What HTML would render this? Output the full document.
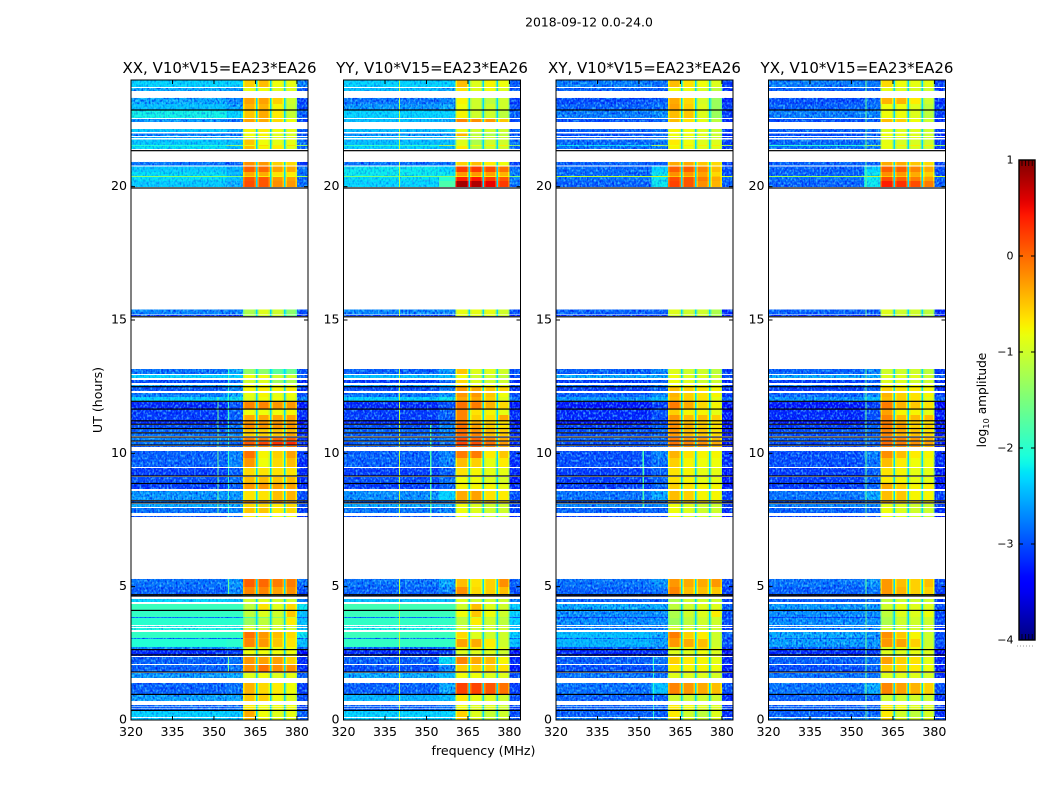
<!DOCTYPE html>
<html>
<head>
<meta charset="utf-8">
<title>2018-09-12 cross-power spectrograms</title>
<style>
html,body{margin:0;padding:0;background:#fff;}
svg{display:block;}
text{font-family:"DejaVu Sans","Liberation Sans",sans-serif;fill:#000;}
</style>
</head>
<body>
<svg id="chart" xmlns="http://www.w3.org/2000/svg" width="1050" height="800" viewBox="0 0 1050 800">
<defs>
<filter id="speckle-dark" x="0" y="0" width="100%" height="100%"><feTurbulence type="fractalNoise" baseFrequency="0.55 0.4" numOctaves="1" seed="4"/><feColorMatrix values="0 0 0 0 0  0 0 0 0 0  0 0 0 0 0.75  3.2 0 0 0 -1.45"/></filter>
<filter id="speckle-light" x="0" y="0" width="100%" height="100%"><feTurbulence type="fractalNoise" baseFrequency="0.55 0.4" numOctaves="1" seed="11"/><feColorMatrix values="0 0 0 0 0.1  0 0 0 0 0.8  0 0 0 0 1  3.2 0 0 0 -1.5"/></filter>
<linearGradient id="jet-gradient" x1="0" y1="1" x2="0" y2="0"></linearGradient>
</defs>
<text x="589" y="26.5" font-size="12.4" text-anchor="middle">2018-09-12 0.0-24.0</text>
<text x="483.5" y="755" font-size="12.6" text-anchor="middle">frequency (MHz)</text>
<text transform="translate(102,400) rotate(-90)" font-size="12.6" text-anchor="middle">UT (hours)</text>
<text transform="translate(986,400) rotate(-90)" font-size="12.2" text-anchor="middle">log<tspan font-size="8.3" dy="3">10</tspan><tspan dy="-3"> amplitude</tspan></text>
<g id="panels"></g>
<g id="colorbar"></g>
</svg>
<script>
// Axis data
const panelTitles = ["XX, V10*V15=EA23*EA26","YY, V10*V15=EA23*EA26","XY, V10*V15=EA23*EA26","YX, V10*V15=EA23*EA26"];
const freqTicks = [320,335,350,365,380];
const utTicks = [0,5,10,15,20];
const colorTicks = [1,0,-1,-2,-3,-4];
// Frequency segments (MHz): background left, background middle, four spectral windows, background right
const bandStart = [320,354.5,360.5,365.7,370.8,375.8,380];
const bandEnd = [354.5,360.5,365.2,370.25,375.3,380,384];
// Scan time edges (UT hours)
const scanTop = [24,23.7,23.33,23.1,22.88,22.54,22.16,21.99,21.86,21.77,21.56,21.53,20.93,20.76,20.55,20.4,20.36,20.21,15.39,15.19,13.16,12.94,12.75,12.56,12.49,12.26,12.11,11.93,11.64,11.44,11.21,11.06,10.91,10.76,10.58,10.43,10.28,10.09,9.83,9.45,9.11,8.85,8.59,8.21,8.1,7.95,7.65,5.29,4.99,4.69,4.54,4.35,4.09,3.86,3.83,3.53,3.45,3.3,3.08,3.04,2.74,2.63,2.36,2.06,1.76,1.39,.94,.56,.48,.41,.34,.08];
const scanBottom = [23.74,23.59,23.1,22.88,22.58,22.43,22.05,21.9,21.83,21.56,21.53,21.41,20.8,20.55,20.4,20.36,20.21,19.99,15.21,15.15,12.98,12.83,12.64,12.5,12.34,12.11,11.96,11.66,11.44,11.23,11.1,10.95,10.8,10.65,10.46,10.31,10.24,9.83,9.49,9.15,8.89,8.66,8.25,8.14,7.99,7.76,7.61,4.99,4.73,4.65,4.43,4.13,3.86,3.83,3.56,3.49,3.38,3.08,3.04,2.74,2.63,2.4,2.1,1.8,1.58,.98,.71,.5,.43,.37,.11,0];
// Completely dark scans (UT hours)
const darkScans = [22.875,21.35,19.95,15.12,12.5,11.95,11.66,11.22,11.09,10.93,10.77,10.61,10.46,10.31,9.15,8.87,8.22,8.14,4.70,4.65,4.11,2.64,2.44,1.80,.96,.36];
// log10 amplitude per scan, per frequency segment
const xxLevels = [
[-2.3,-2.3,-.55,-.45,-.8,-.85,-2.7],[-2.5,-2.6,-.85,-.8,-.9,-.9,-3],[-2.5,-2.7,-.3,-.3,-.55,-1,-3.1],[-2.4,-2.5,-.4,-.4,-.75,-1.05,-3],[-2.15,-2.3,-.5,-.35,-.7,-1.05,-2.9],[-2.6,-2.8,-.3,-.35,-.6,-.8,-3.1],
[-2.35,-2.5,-.75,-.7,-.8,-.85,-2.9],[-2.75,-2.8,-.8,-.75,-.9,-.95,-3],[-2.5,-2.5,-.9,-.8,-.9,-.9,-2.8],[-2.35,-2.4,-.5,-.8,-.85,-.85,-2.8],[-2,-1.4,-.8,-.6,-.7,-.6,-1.3],[-2.25,-2.4,-.45,-.75,-.7,-.9,-2.9],
[-2.8,-2.9,-.2,-.25,-.55,-.6,-3.1],[-2.35,-2.45,.05,0,-.3,-.35,-2.8],[-2.25,-2.45,-.35,-.35,-.65,-.7,-2.8],[-1.4,-1.5,-.6,-.7,-.8,-.8,-1.3],[-2.25,-2.4,.1,.1,-.25,-.3,-2.9],[-2.35,-2.5,.15,.1,-.2,-.25,-2.8],
[-2.7,-2.75,-1.2,-.9,-1,-1.4,-3],[-3.2,-3.2,-1.2,-1,-1,-1.5,-3.3],
[-2.8,-2.5,-1.35,-1.4,-1.7,-1.6,-3],[-2.3,-2.3,-.8,-.8,-1,-1,-2.9],[-3,-2.8,-1,-.9,-1.3,-1.2,-3.2],[-2.5,-2.4,-.8,-.8,-.9,-.9,-2.9],[-2.95,-2.7,-.75,-.7,-.75,-.7,-3.2],[-2.75,-2.5,-.85,-.75,-.85,-.8,-3],[-2.3,-2.2,-.9,-.8,-.8,-.85,-2.7],
[-3.2,-3,-.15,-.15,-.25,-.25,-3.3],[-3.1,-2.9,-.8,-.8,-.8,-.75,-3.2],[-3.1,-2.9,-.35,-.35,-.35,-.3,-3.2],[-3.2,-3,-.25,-.25,-.25,-.25,-3.4],[-3,-2.8,-.2,-.25,-.25,-.25,-3.2],[-2.9,-2.8,-.5,-.55,-.5,-.45,-3.2],[-2.8,-2.7,-.55,-.55,-.5,-.3,-3.2],[-2.7,-2.7,-.1,-.1,0,.05,-3.1],[-2.8,-2.8,.1,.2,.3,.35,-3.2],[-2.9,-2.9,-.2,-.15,-.05,-.05,-3.2],
[-2.9,-2.7,-.05,-.75,-.55,-.3,-3.1],[-2.9,-2.7,-.25,-.8,-.6,-.45,-3.2],[-3.1,-2.9,-.6,-.65,-.65,-.65,-3.2],[-3,-2.8,-.45,-.45,-.5,-.45,-3.2],[-3.1,-2.9,-.25,-.25,-.3,-.3,-3.2],[-2.6,-2.6,-.65,-.65,-.45,-.4,-3],[-2.8,-2.7,-.2,-.25,-.2,-.35,-3.1],[-2.5,-2.5,-.6,-.6,-.7,-.6,-3],[-2.8,-2.7,-.5,-.5,-.7,-.6,-3.1],[-3,-2.9,-.7,-.7,-.8,-.8,-3.2],
[-2.8,-2.6,.05,0,-.1,-.1,-2.8],[-2.9,-2.7,-.15,-.15,-.3,-.2,-3],[-3.2,-3.1,-.6,-.6,-.7,-.7,-3.3],[-2.3,-2.4,-1,-.9,-1,-1,-2.7],[-1.9,-1.9,-1.1,-.65,-.9,-.6,-2.2],[-1.95,-1.95,-1.1,-.9,-1,-.5,-2.4],[-2.8,-2.8,-1.8,-1.5,-1.4,-1,-2.9],[-2,-2,-1.3,-1.1,-1,-.7,-2.4],[-2.1,-2.1,-1,-1,-1,-1,-2.4],[-2.1,-2.1,-1,-1,-1,-1,-2.4],
[-1.95,-1.95,-.05,-.25,-.45,-.6,-2.2],[-2.8,-2.8,-.2,-.35,-.55,-.65,-2.9],[-2.05,-2,-.15,-.25,-.5,-.65,-2.4],[-2.7,-2.5,-.9,-.75,-.8,-.8,-2.9],[-3.2,-3.1,-.8,-.8,-.8,-.8,-3.4],[-2.9,-2.8,-.25,-.3,-.3,-.55,-3.2],[-2.9,-2.8,-.2,-.05,-.2,-.2,-3.2],[-2.6,-2.5,-.9,-.8,-.9,-.85,-2.9],[-2.9,-2.8,-.4,-.6,-.7,-.8,-3.1],[-2.55,-2.5,-.5,-.55,-.8,-.9,-3],
[-2.9,-2.8,-.7,-.8,-.8,-.8,-3.1],[-2.9,-2.8,-.7,-.8,-.8,-.8,-3.1],[-2.9,-2.8,-.7,-.8,-.8,-.8,-3.1],[-2.3,-2.35,-.35,-.8,-.9,-.85,-2.9],[-2.35,-2.35,-.45,-.8,-.9,-.9,-2.9]];
const yyLevels = [
[-2.3,-2.3,-.45,-.9,-.75,-.8,-2.9],[-2.4,-2.5,-.65,-.9,-.8,-.9,-3],[-2.8,-2.7,-.75,-1,-1.1,-1,-3.1],[-2.6,-2.5,-.8,-1,-1,-1,-3],[-2.3,-2.3,-.75,-1,-1,-1.1,-2.9],[-2.4,-2.5,-.15,-.2,-.25,-.5,-3],
[-2.4,-2.4,-.85,-1,-1,-1,-2.9],[-2.6,-2.6,-.4,-1.1,-1.2,-1.1,-3],[-2.4,-2.4,-1,-1,-1,-1,-2.8],[-2.4,-2.4,-.9,-1.2,-1,-1,-2.8],[-1.9,-1.2,-.85,-.8,-.7,-.7,-1.4],[-2.3,-2.4,-.7,-1.1,-1,-1,-2.9],
[-2.8,-2.8,-.55,-.45,-.7,-.8,-3.1],[-2.2,-2.3,.25,.25,.15,-.05,-2.8],[-2.2,-2.2,-.25,-.25,-.3,-.4,-2.7],[-1.5,-1.4,-.6,-.6,-.7,-.7,-1.5],[-2.25,-2,.4,.45,.25,.1,-2.7],[-2.3,-1.8,.85,.8,.55,.25,-2.8],
[-2.7,-2.7,-.85,-.85,-.85,-1,-3],[-3.1,-3.1,-.9,-.9,-.9,-1,-3.3],
[-2.9,-2.6,-.5,-.9,-.9,-1,-3],[-2.4,-2.4,-.8,-1,-1,-1.1,-3],[-3.1,-2.9,-.6,-.9,-1,-1,-3.2],[-2.5,-2.4,-.6,-.8,-.8,-.9,-3],[-3,-2.8,-.25,-.35,-.5,-.55,-3.2],[-2.8,-2.6,-.25,-.25,-.5,-.8,-3],[-2.3,-2.2,-.35,-.35,-.55,-.9,-2.8],
[-3.2,-3,-.05,-.1,-.4,-.6,-3.3],[-3.1,-2.9,-.15,-.65,-.75,-.85,-3.2],[-3.1,-2.9,-.15,-.55,-.65,-.35,-3.2],[-3.2,-2.9,-.1,-.4,-.55,-.65,-3.4],[-3,-2.7,-.05,-.3,-.55,-.65,-3.2],[-2.9,-2.7,-.05,-.25,-.45,-.55,-3.2],[-2.9,-2.7,0,-.15,-.45,-.5,-3.2],[-2.8,-2.7,.15,0,-.15,-.35,-3.1],[-2.9,-2.8,.2,.15,-.05,-.25,-3.2],[-2.9,-2.9,.05,.05,-.15,-.35,-3.2],
[-2.9,-2.7,-.1,-.1,-.7,-.5,-3.1],[-2.9,-2.7,-.45,-.55,-.85,-.7,-3.2],[-3.1,-2.9,-.65,-.75,-.85,-.85,-3.2],[-3,-2.8,-.8,-.8,-.9,-.95,-3.3],[-3.1,-2.9,-.75,-.75,-.75,-.85,-3.2],[-2.65,-2.3,-.35,-.3,-.65,-.7,-3],[-2.9,-2.8,-.45,-.55,-.55,-.65,-3.1],[-2.5,-2.5,-.8,-.9,-1,-1,-3],[-2.8,-2.7,-.8,-.9,-1,-1,-3.1],[-3,-2.9,-.8,-.9,-1,-1,-3.2],
[-2.8,-2.5,-.45,-.65,-.55,-.2,-2.9],[-2.9,-2.7,-.2,-.6,-.55,-.45,-3],[-3.2,-3.1,-.6,-.7,-.7,-.7,-3.3],[-2.4,-2.4,-.9,-1,-1,-1,-2.7],[-1.85,-1.85,-1,-.45,-.9,-1,-2.3],[-1.9,-1.9,-.8,-.5,-.8,-1,-2.3],[-2.8,-2.7,-1.2,-1,-1.1,-1.2,-2.9],[-1.95,-1.95,-1.1,-.7,-1,-1.1,-2.3],[-2.1,-2.1,-1,-1,-1,-1,-2.4],[-2.1,-2.1,-1,-1,-1,-1,-2.4],
[-1.9,-1.9,-.6,-.9,-1,-1,-2.3],[-2.7,-2.7,-.8,-1,-1,-1,-2.9],[-1.95,-1.95,-.3,-.35,-.7,-1,-2.4],[-2.9,-2.8,-.8,-.7,-.8,-.9,-3.1],[-3.2,-3.1,-.9,-.9,-.9,-1,-3.4],[-2.9,-2.25,-.15,-.35,-.45,-.75,-3.2],[-3,-2.7,-.55,-.55,-.55,-.65,-3.3],[-2.5,-2.4,-.8,-.8,-.9,-.9,-3],[-2.9,-2.5,.2,.2,.1,-.05,-3.1],[-2.45,-2.4,-.7,-.85,-.9,-1,-3],
[-2.9,-2.8,-.8,-.9,-.9,-1,-3.1],[-2.9,-2.8,-.8,-.9,-.9,-1,-3.1],[-2.9,-2.8,-.8,-.9,-.9,-1,-3.1],[-2.3,-2.3,-.55,-.9,-1.05,-1,-3],[-2.3,-2.3,-.55,-.9,-1.05,-1,-3]];
const xyLevels = [
[-2.75,-2.8,-.45,-.65,-.8,-.9,-3.1],[-2.9,-2.9,-.8,-.85,-.95,-1.1,-3.2],[-3,-2.9,-.35,-.6,-.95,-1.3,-3.2],[-2.9,-2.8,-.3,-.55,-.9,-1.3,-3.1],[-2.75,-2.65,-.45,-.5,-.9,-1.3,-3.1],[-3,-2.9,-.45,-.65,-.85,-1.1,-3.2],
[-2.9,-2.8,-.75,-.8,-.9,-1,-3.1],[-3,-2.9,-.8,-.8,-.9,-1,-3.2],[-2.9,-2.8,-.9,-.9,-.9,-1,-3.1],[-2.85,-2.75,-.7,-.8,-.9,-.9,-3.1],[-2.2,-1.2,-.8,-.7,-.7,-.7,-1.2],[-2.8,-2.75,-.75,-.85,-.9,-.9,-3.1],
[-2.9,-2.9,-.35,-.35,-.5,-.6,-3.1],[-2.85,-2.3,.05,.05,-.15,-.45,-3],[-2.85,-2.2,-.2,-.25,-.3,-.6,-3],[-1.1,-1,-.5,-.5,-.3,-.5,-1],[-2.8,-2.2,.15,.1,-.1,-.35,-2.9],[-2.9,-2.2,.2,.1,-.2,-.4,-2.9],
[-2.9,-2.9,-.9,-1,-1,-1.2,-3.2],[-3.2,-3.2,-1,-1,-1,-1.2,-3.3],
[-2.9,-2.7,-.9,-1,-1,-1.1,-3.1],[-2.5,-2.5,-.8,-.9,-.9,-1,-3],[-3.1,-2.9,-.8,-.9,-1,-1,-3.2],[-2.8,-2.7,-.8,-.8,-.8,-.9,-3],[-3.1,-2.9,-.45,-.55,-.65,-.75,-3.2],[-2.9,-2.7,-.4,-.55,-.65,-.75,-3.1],[-2.6,-2.4,-.45,-.55,-.65,-.85,-2.9],
[-3.3,-3.1,-.1,-.35,-.6,-.75,-3.4],[-3.2,-3,-.55,-.75,-.75,-.85,-3.3],[-3.2,-3,-.25,-.45,-.45,-.55,-3.3],[-3.3,-3.1,-.25,-.45,-.55,-.65,-3.4],[-3.1,-2.9,-.2,-.4,-.55,-.65,-3.3],[-3,-2.9,-.25,-.45,-.5,-.65,-3.3],[-3,-2.9,-.25,-.45,-.5,-.6,-3.3],[-2.9,-2.8,-.1,-.25,-.25,-.45,-3.2],[-3,-2.9,-.05,-.15,-.2,-.35,-3.3],[-3,-2.9,-.15,-.25,-.25,-.45,-3.3],
[-3,-2.7,-.4,-.65,-.75,-.75,-3.2],[-3,-2.8,-.55,-.75,-.8,-.8,-3.2],[-3.1,-2.9,-.65,-.75,-.85,-.85,-3.3],[-3.1,-2.9,-.65,-.75,-.85,-.85,-3.3],[-3.1,-2.9,-.55,-.65,-.75,-.75,-3.3],[-2.8,-2.5,-.45,-.55,-.75,-.75,-3.1],[-3,-2.9,-.45,-.55,-.65,-.75,-3.2],[-2.7,-2.7,-.8,-.9,-1,-1,-3.1],[-2.9,-2.9,-.8,-.9,-1,-1,-3.2],[-3.1,-3,-.8,-.9,-1,-1,-3.3],
[-2.8,-2.6,-.25,-.35,-.35,-.25,-3],[-2.9,-2.8,-.15,-.45,-.45,-.5,-3.1],[-3.3,-3.2,-.7,-.7,-.8,-.8,-3.4],[-2.9,-2.9,-1.2,-1,-1,-1,-3.1],[-2.5,-2.5,-1.1,-1,-.9,-.9,-2.9],[-2.65,-2.65,-1.2,-1,-.9,-.7,-3],[-3.1,-3.1,-1.2,-1.1,-1,-1,-3.2],[-2.65,-2.65,-1.3,-1.1,-1,-1,-3],[-2.7,-2.7,-1,-1,-1,-1,-3.1],[-2.7,-2.7,-1,-1,-1,-1,-3.1],
[-2.4,-2.5,-.1,-.55,-.7,-1,-2.9],[-2.9,-2.9,-.25,-.65,-.75,-1,-3.1],[-2.45,-2.55,-.25,-.35,-.45,-1,-3],[-3,-2.9,-.9,-.75,-.6,-.9,-3.2],[-3.2,-3.1,-.9,-.9,-.8,-.9,-3.4],[-2.9,-2.8,-.55,-.7,-.75,-.85,-3.2],[-3,-2.9,-.7,-.75,-.75,-.8,-3.3],[-2.8,-2.8,-.9,-.9,-.9,-.95,-3.2],[-2.8,-2.4,-.15,-.25,-.35,-.45,-3],[-2.9,-2.9,-1,-1,-1,-1,-3.2],
[-2.9,-2.9,-.7,-.8,-.9,-.9,-3.1],[-2.9,-2.9,-.7,-.8,-.9,-.9,-3.1],[-2.9,-2.9,-.7,-.8,-.9,-.9,-3.1],[-2.9,-2.9,-.7,-1,-1.1,-.9,-3.2],[-2.7,-2.7,-.65,-.9,-1,-.9,-3]];
const yxLevels = [
[-2.75,-2.8,-.6,-.8,-.85,-.85,-3.1],[-2.9,-2.9,-.85,-.9,-.95,-1,-3.2],[-3,-2.9,-.4,-.4,-.7,-1,-3.2],[-2.9,-2.8,-.8,-.8,-.9,-1.1,-3.1],[-2.75,-2.7,-.8,-.8,-.9,-1.1,-3.1],[-3,-2.9,-.45,-.55,-.8,-1,-3.2],
[-2.9,-2.8,-.9,-.9,-.9,-1,-3.1],[-3,-2.9,-.8,-.85,-.9,-1,-3.2],[-2.9,-2.8,-.9,-.9,-.9,-1,-3.1],[-2.85,-2.75,-.85,-.95,-.95,-1,-3.1],[-2,-1.3,-.8,-.7,-.7,-.7,-1.3],[-2.8,-2.75,-.85,-.95,-.95,-1,-3.1],
[-2.9,-2.9,-.35,-.35,-.5,-.6,-3.1],[-2.9,-2.3,.05,.05,-.15,-.35,-3],[-2.9,-2.2,-.2,-.25,-.35,-.55,-3],[-1.3,-1.1,-.5,-.5,-.4,-.5,-1],[-2.8,-2.2,.15,.05,-.1,-.3,-2.9],[-2.9,-2.2,.4,.3,.15,-.1,-2.9],
[-2.9,-2.9,-.9,-1,-1,-1.1,-3.2],[-3.2,-3.2,-1,-1,-1,-1.2,-3.3],
[-2.9,-2.7,-1,-1,-1,-1.1,-3.1],[-2.5,-2.5,-.9,-.9,-.9,-1,-3],[-3.1,-2.9,-.9,-.9,-1,-1,-3.2],[-2.8,-2.7,-.8,-.8,-.8,-.9,-3],[-3.1,-2.9,-.55,-.65,-.7,-.75,-3.2],[-2.9,-2.7,-.4,-.55,-.65,-.75,-3.1],[-2.6,-2.4,-.45,-.55,-.65,-.85,-2.9],
[-3.3,-3.1,-.1,-.4,-.5,-.65,-3.4],[-3.2,-3,-.3,-.75,-.75,-.85,-3.3],[-3.2,-3,-.15,-.45,-.45,-.45,-3.3],[-3.3,-3.1,-.1,-.35,-.55,-.65,-3.4],[-3.1,-2.9,-.1,-.3,-.55,-.55,-3.3],[-3,-2.9,-.15,-.35,-.5,-.65,-3.3],[-3,-2.9,-.15,-.4,-.45,-.6,-3.3],[-2.9,-2.8,-.05,-.15,-.25,-.4,-3.2],[-3,-2.9,0,-.1,-.2,-.3,-3.3],[-3,-2.9,-.1,-.2,-.25,-.45,-3.3],
[-3,-2.7,-.2,-.45,-.7,-.75,-3.2],[-3,-2.8,-.45,-.7,-.8,-.8,-3.2],[-3.1,-2.9,-.65,-.75,-.85,-.85,-3.3],[-3.1,-2.9,-.7,-.75,-.85,-.85,-3.3],[-3.1,-2.9,-.35,-.55,-.75,-.7,-3.3],[-2.8,-2.5,-.45,-.5,-.75,-.75,-3.1],[-3,-2.9,-.35,-.55,-.65,-.75,-3.2],[-2.7,-2.7,-.85,-.9,-1,-1,-3.1],[-2.9,-2.9,-.8,-.9,-1,-1,-3.2],[-3.1,-3,-.8,-.9,-1,-1,-3.3],
[-2.8,-2.6,-.25,-.45,-.55,-.45,-3],[-2.9,-2.8,-.25,-.4,-.55,-.55,-3.1],[-3.3,-3.2,-.7,-.7,-.8,-.8,-3.4],[-2.9,-2.9,-1.1,-1,-1,-1,-3.1],[-2.6,-2.6,-1,-.85,-.9,-.9,-3],[-2.65,-2.65,-1.1,-.9,-.9,-.8,-3],[-3.1,-3.1,-1.2,-1.1,-1,-1,-3.2],[-2.65,-2.65,-1.2,-1,-1,-1,-3],[-2.7,-2.7,-1,-1,-1,-1,-3.1],[-2.7,-2.7,-1,-1,-1,-1,-3.1],
[-2.5,-2.6,-.2,-.5,-.75,-1,-3],[-2.9,-2.9,-.35,-.65,-.75,-1,-3.1],[-2.55,-2.6,-.25,-.3,-.55,-1,-3],[-3,-2.9,-.9,-.8,-.8,-.9,-3.2],[-3.2,-3.1,-.9,-.9,-.85,-.9,-3.4],[-2.9,-2.8,-.3,-.55,-.65,-.85,-3.2],[-3,-2.9,-.55,-.6,-.7,-.8,-3.3],[-2.8,-2.8,-.9,-.9,-.9,-.95,-3.2],[-2.8,-2.5,-.15,-.3,-.4,-.55,-3],[-2.9,-2.9,-1,-1,-1,-1,-3.2],
[-2.9,-2.9,-.7,-.8,-.9,-.9,-3.1],[-2.9,-2.9,-.7,-.8,-.9,-.9,-3.1],[-2.9,-2.9,-.7,-.8,-.9,-.9,-3.1],[-2.9,-2.9,-.7,-1,-1.1,-.95,-3.2],[-2.7,-2.7,-.6,-.9,-1,-.9,-3]];
// Narrow interference lines: frequency, top UT, bottom UT, level
const xxInterference = [[355,13.2,7.6,-1.9],[355,5.3,4.7,-1.6],[355,2.4,1.8,-1.6],[351.2,12,7.9,-1.6]];
const yyInterference = [[340,24,0,-1.1],[351.3,11,7.6,-1.8]];
const xyInterference = [[351.3,10.1,8,-1.8],[355,2.4,0,-2]];
const yxInterference = [[355,24,0,-1.6]];
// Level between spectral windows
const gapLevel = -2.3;
const edgeDrop = 0.3;
const noisyBelow = -2.45;
const mildBelow = -2.05;
const panelLevels = [xxLevels,yyLevels,xyLevels,yxLevels];
const panelInterference = [xxInterference,yyInterference,xyInterference,yxInterference];
const panelKeys = ["xx","yy","xy","yx"];

// Layout
const NS = "http://www.w3.org/2000/svg";
const plotTop = 80, plotBottom = 720, plotWidth = 177;
const panelSpacing = 212.5, firstPanelLeft = 131;
const freqMin = 320, freqMax = 384, utMin = 0, utMax = 24;
const cbLeft = 1019, cbRight = 1035, cbTop = 160, cbBottom = 640, cMin = -4, cMax = 1;
const xScale = (p, f) => firstPanelLeft + p * panelSpacing + (f - freqMin) / (freqMax - freqMin) * plotWidth;
const yScale = t => plotBottom - (t - utMin) / (utMax - utMin) * (plotBottom - plotTop);
const cScale = v => cbBottom - (v - cMin) / (cMax - cMin) * (cbBottom - cbTop);

function ramp(f, pts) {
  for (let i = 1; i < pts.length; i++) {
    if (f <= pts[i][0]) {
      const a = pts[i-1], b = pts[i];
      return a[1] + (b[1]-a[1]) * (f-a[0]) / (b[0]-a[0]);
    }
  }
  return pts[pts.length-1][1];
}
function jet(v) {
  const f = Math.max(0, Math.min(1, (v - cMin) / (cMax - cMin)));
  const r = ramp(f, [[0,0],[.35,0],[.66,1],[.89,1],[1,.5]]);
  const g = ramp(f, [[0,0],[.125,0],[.375,1],[.64,1],[.91,0],[1,0]]);
  const b = ramp(f, [[0,.5],[.11,1],[.34,1],[.65,0],[1,0]]);
  return "rgb(" + Math.round(r*255) + "," + Math.round(g*255) + "," + Math.round(b*255) + ")";
}
function make(parent, tag, attrs) {
  const el = document.createElementNS(NS, tag);
  for (const k in attrs) el.setAttribute(k, attrs[k]);
  parent.appendChild(el);
  return el;
}
function cell(g, x0, x1, y0, y1, v) {
  const el = make(g, "rect", {x: x0, y: y0, width: x1 - x0, height: y1 - y0, fill: jet(v), "shape-rendering": "crispEdges"});
  
  
}

const svg = document.getElementById("chart");
const defs = svg.querySelector("defs");
const panelsRoot = document.getElementById("panels");

panelLevels.forEach((levels, p) => {
  const panel = make(panelsRoot, "g", {});
  
  
  const left = xScale(p, freqMin);

  const heat = make(panel, "g", {});
  
  

  const clipStrong = make(defs, "clipPath", {id: "scan-clip-strong-" + p});
  const clipMild = make(defs, "clipPath", {id: "scan-clip-mild-" + p});
  levels.forEach((row, s) => {
    const y0 = yScale(scanTop[s]), y1 = yScale(scanBottom[s]);
    row.forEach((v, b) => {
      const x0 = xScale(p, bandStart[b]), x1 = xScale(p, bandEnd[b]);
      if (b >= 2 && b <= 5) {
        const inset = 0.55 * plotWidth / (freqMax - freqMin);
        cell(heat, x0, x0 + inset, y0, y1, v - edgeDrop);
        cell(heat, x0 + inset, x1 - inset, y0, y1, v);
        cell(heat, x1 - inset, x1, y0, y1, v - edgeDrop);
      } else {
        cell(heat, x0, x1, y0, y1, v);
        // noise strength follows the signal level of the background segment
        const target = v < noisyBelow ? clipStrong : (v < mildBelow ? clipMild : null);
        if (target) make(target, "rect", {x: x0, y: y0, width: x1 - x0, height: y1 - y0});
      }
      // gaps between spectral windows
      if (b >= 2 && b <= 4) {
        cell(heat, x1, xScale(p, bandStart[b+1]), y0, y1, gapLevel);
      }
    });
  });

  // Receiver noise texture over the background segments
  [["strong",0.7],["mild",0.38]].forEach(cfg => {
    ["speckle-dark","speckle-light"].forEach(id => {
      const wrap = make(panel, "g", {"clip-path": "url(#scan-clip-" + cfg[0] + "-" + p + ")"});
      
      
      make(wrap, "rect", {x: left, y: plotTop, width: plotWidth, height: plotBottom - plotTop, filter: "url(#" + id + ")", opacity: cfg[1]});
    });
  });

  // Interference lines
  panelInterference[p].forEach(line => {
    levels.forEach((row, s) => {
      if (scanBottom[s] < line[1] && scanTop[s] > line[2]) {
        const x = xScale(p, line[0]);
        cell(panel, x, x + 1.2, yScale(scanTop[s]), yScale(scanBottom[s]), line[3]);
      }
    });
  });

  // Dark scans
  darkScans.forEach(t => {
    const line = make(panel, "rect", {x: left, y: yScale(t) - 0.6, width: plotWidth, height: 1.2, fill: "#000"});
    
    
  });

  // Frame
  const frame = make(panel, "rect", {x: left, y: plotTop, width: plotWidth, height: plotBottom - plotTop, fill: "none", stroke: "#000", "stroke-width": 1});
  
  

  const right = xScale(p, freqMax);

  // Title
  const title = make(panel, "text", {x: (left + right) / 2, y: 73, "font-size": 15, "text-anchor": "middle"});
  title.textContent = panelTitles[p];
  
  

  // X ticks
  freqTicks.forEach(f => {
    const x = xScale(p, f);
    const tickB = make(panel, "line", {x1: x, x2: x, y1: plotBottom, y2: plotBottom - 4, stroke: "#000"});
    
    
    const tickT = make(panel, "line", {x1: x, x2: x, y1: plotTop, y2: plotTop + 4, stroke: "#000"});
    
    
    const label = make(panel, "text", {x: x, y: 736, "font-size": 12.6, "text-anchor": "middle"});
    label.textContent = f;
    
    
  });

  // Y ticks
  utTicks.forEach(t => {
    const y = yScale(t);
    const tickL = make(panel, "line", {x1: left, x2: left + 4, y1: y, y2: y, stroke: "#000"});
    
    
    const tickR = make(panel, "line", {x1: right, x2: right - 4, y1: y, y2: y, stroke: "#000"});
    
    
    const label = make(panel, "text", {x: left - 4, y: y + 3.5, "font-size": 12.6, "text-anchor": "end"});
    label.textContent = t;
    
    
  });
});

// Colorbar
const grad = document.getElementById("jet-gradient");
for (let i = 0; i <= 60; i++) {
  make(grad, "stop", {offset: (i / 60 * 100) + "%", "stop-color": jet(cMin + (cMax - cMin) * i / 60)});
}
const cb = document.getElementById("colorbar");
const cbFill = make(cb, "rect", {x: cbLeft, y: cbTop, width: cbRight - cbLeft, height: cbBottom - cbTop, fill: "url(#jet-gradient)", stroke: "#000", "stroke-width": 1.4});


colorTicks.forEach(v => {
  const y = cScale(v);
  const t1 = make(cb, "line", {x1: cbLeft, x2: cbLeft + 4, y1: y, y2: y, stroke: "#000"});
  
  
  const t2 = make(cb, "line", {x1: cbRight, x2: cbRight - 4, y1: y, y2: y, stroke: "#000"});
  
  
  const label = make(cb, "text", {x: 1013.5, y: y + 3.5, "font-size": 11, "text-anchor": "end"});
  label.textContent = v < 0 ? "\u2212" + Math.abs(v) : String(v);
  
  
});
[0,1,2,3].forEach(i => {
  const x = cbLeft + 3 + i * 3.4;
  const a = make(cb, "line", {x1: x, x2: x, y1: cbTop, y2: cbTop + 6, stroke: "#000", "stroke-width": 0.8});
  
  
  const b = make(cb, "line", {x1: x, x2: x, y1: cbBottom, y2: cbBottom - 6, stroke: "#000", "stroke-width": 0.8});
  
  
});
const dots = make(cb, "line", {x1: 1017, x2: 1035, y1: 646, y2: 646, stroke: "#999", "stroke-width": 1, "stroke-dasharray": "1 2"});


</script>
</body>
</html>
